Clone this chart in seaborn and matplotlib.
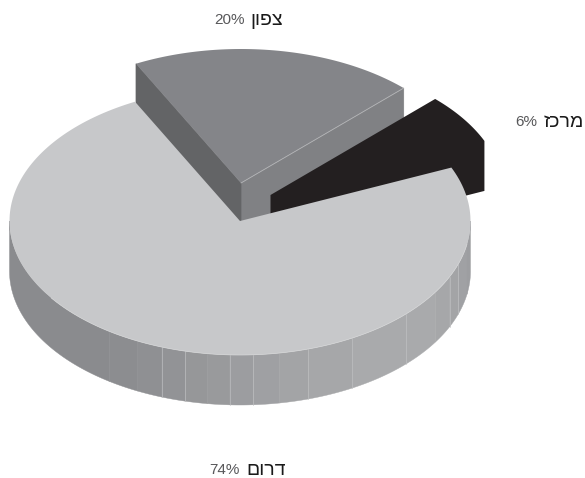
"""
Exploded 3D-style pie chart of regional shares (Hebrew labels).
"""

import numpy as np
import matplotlib
import matplotlib.pyplot as plt
import seaborn as sns

matplotlib.use('Agg')
sns.set_theme(style='white')
plt.rcParams['font.family'] = ['Liberation Sans', 'DejaVu Sans']

# Data
REGIONS = ['מרכז', 'צפון', 'דרום']
SHARES = [6, 20, 74]

# Colours per slice: top face, left cut, right cut
TOP_COLORS = ['#231f20', '#848589', '#c7c8ca']
LEFT_CUT = '#636466'
RIGHT_CUT = '#808184'

# Facets of the front wall of the big slice, degrees
WALL_EDGES = [180, 235.6, 243.7, 250.2, 256.2, 261.8, 267.5, 273.3,
              279.8, 287.2, 299.1, 316.2, 328, 335.4, 341.4, 350, 360]
WALL_LINES = [250.2, 256.2, 267.5, 273.3, 287.2, 299.1, 316.2, 335.4, 341.4]

# Geometry in image pixels
RX, RY = 230.5, 134
DEPTH = 50
START_ANGLE = 23.5
APEX = [(270.5, 195), (241, 183), (240, 221)]
RADIUS_SCALE = [1.012, 1.0, 1.0]
LABEL_POS = [(540.5, 122), (247.5, 20), (243, 470.5)]


def arc(apex, t0, t1, n=60, scale=1.0):
    t = np.radians(np.linspace(t0, t1, n))
    return apex[0] + scale * RX * np.cos(t), apex[1] - scale * RY * np.sin(t)


def draw_cut(ax, apex, angle, color):
    # wall running from the apex out to the rim at the given angle
    x, y = arc(apex, angle, angle, 1)
    ax.fill([apex[0], x[0], x[0], apex[0]],
            [apex[1], y[0], y[0] + DEPTH, apex[1] + DEPTH],
            fc=color, ec=color, lw=0.5)


fig, ax = plt.subplots(figsize=(5.85, 4.78), dpi=100)
ax.set_position([0, 0, 1, 1])
ax.set_xlim(0, 585)
ax.set_ylim(478, 0)
ax.axis('off')

sweeps = np.array(SHARES) * 3.6
ends = START_ANGLE + np.cumsum(sweeps)
starts = ends - sweeps

# North slice, behind everything else
t0, t1 = starts[1], ends[1]
draw_cut(ax, APEX[1], t0, RIGHT_CUT)
draw_cut(ax, APEX[1], t1, LEFT_CUT)
x, y = arc(APEX[1], t0, t1)
ax.fill(np.r_[APEX[1][0], x], np.r_[APEX[1][1], y], color=TOP_COLORS[1], lw=0)
px, py = arc(APEX[1], t0, t0, 1)
ax.plot([APEX[1][0], px[0]], [APEX[1][1], py[0]], color='#b5b6b8', lw=0.6)

# Centre slice: top and wall share a colour, so one outline covers both
t0, t1 = starts[0], ends[0]
x, y = arc(APEX[0], t0, t1, scale=RADIUS_SCALE[0])
ax.fill(np.r_[APEX[0][0], APEX[0][0], x[0], x],
        np.r_[APEX[0][1], APEX[0][1] + DEPTH, y[0] + DEPTH, y],
        color=TOP_COLORS[0], lw=0)

# Big slice: front wall in facets, darker on the left
mid = sns.blend_palette(['#8c8d90', '#a9aaac'], 10)
right = sns.blend_palette(['#a9aaac', '#9d9ea1'], 5)
wall_colors = ['#8a8b8e'] + mid + right
for a0, a1, col in zip(WALL_EDGES[:-1], WALL_EDGES[1:], wall_colors):
    x, y = arc(APEX[2], a0, a1, 40)
    ax.fill(np.r_[x, x[::-1]], np.r_[y, y[::-1] + DEPTH], color=col, ec=col, lw=0.3)
for a in WALL_LINES:
    x, y = arc(APEX[2], a, a, 1)
    ax.plot([x[0], x[0]], [y[0], y[0] + DEPTH], color='#bdbec0', lw=0.5)

x, y = arc(APEX[2], starts[2], ends[2], 200)
ax.fill(np.r_[APEX[2][0], x], np.r_[APEX[2][1], y], color=TOP_COLORS[2], lw=0)
x, y = arc(APEX[2], 215, 350, 120)
ax.plot(x, y, color='#d6d7d8', lw=0.5)

# Labels: percent on the left, region name on the right (glyphs laid out visually)
for region, share, (lx, ly) in zip(REGIONS, SHARES, LABEL_POS):
    ax.text(lx - 3, ly, f'{share}%', ha='right', va='center', fontsize=11, color='#58585a')
    ax.text(lx + 3, ly, region[::-1], ha='left', va='center', fontsize=14, color='#1a1a1a')

fig.savefig('out.png', dpi=100)
plt.close(fig)
